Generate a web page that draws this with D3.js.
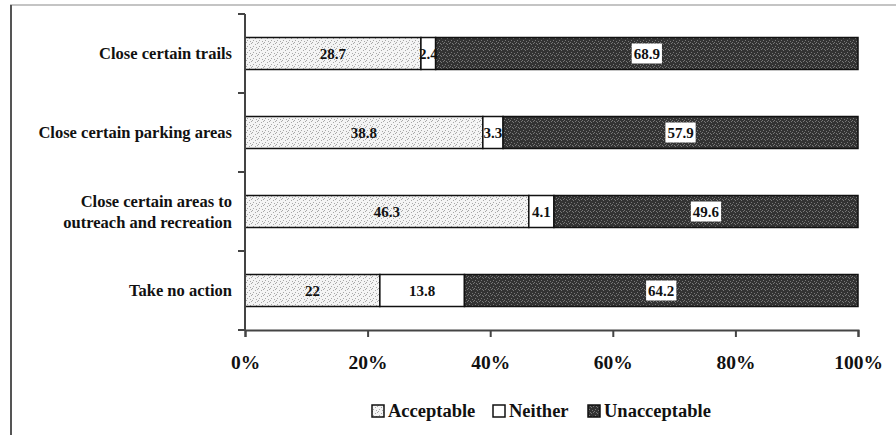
<!DOCTYPE html>
<html><head><meta charset="utf-8">
<script src="https://cdn.jsdelivr.net/npm/d3@7"></script>
<style>
body{margin:0;background:#fff;}
svg{display:block;}
</style></head>
<body>
<svg id="c" width="896" height="435"></svg>
<script>
const categories = [
  ["Close certain trails"],
  ["Close certain parking areas"],
  ["Close certain areas to", "outreach and recreation"],
  ["Take no action"]
];
const seriesNames = ["Acceptable", "Neither", "Unacceptable"];
const acceptable = [28.7, 38.8, 46.3, 22];
const neither = [2.4, 3.3, 4.1, 13.8];
const unacceptable = [68.9, 57.9, 49.6, 64.2];
const tickValues = [0, 20, 40, 60, 80, 100];
const tickLabels = ["0%", "20%", "40%", "60%", "80%", "100%"];

(function(){
const FONT = "Liberation Serif";
const svg = d3.select("#c");
const defs = svg.append("defs");

// texture patterns
const pA = defs.append("pattern").attr("id","pA").attr("patternUnits","userSpaceOnUse").attr("width",6).attr("height",6);
pA.append("rect").attr("width",6).attr("height",6).attr("fill","#f4f4f4");
[[0,0],[3,2],[1,4],[4,5],[5,1]].forEach(d=>pA.append("rect").attr("x",d[0]).attr("y",d[1]).attr("width",1).attr("height",1).attr("fill","#a8a8a8"));
const pU = defs.append("pattern").attr("id","pU").attr("patternUnits","userSpaceOnUse").attr("width",6).attr("height",6);
pU.append("rect").attr("width",6).attr("height",6).attr("fill","#333");
[[0,0],[3,2],[1,4],[4,5],[5,1],[2,1]].forEach(d=>pU.append("rect").attr("x",d[0]).attr("y",d[1]).attr("width",1).attr("height",1).attr("fill","#777"));
const fills = ["url(#pA)", "#ffffff", "url(#pU)"];

// frame
svg.append("line").attr("x1",10).attr("x2",896).attr("y1",5).attr("y2",5).attr("stroke","#c4c4c4").attr("stroke-width",2);
svg.append("line").attr("x1",11).attr("x2",11).attr("y1",5).attr("y2",435).attr("stroke","#555").attr("stroke-width",2);

const mL = 245, mR = 858, mT = 14, mB = 330;
const x = d3.scaleLinear().domain([0,100]).range([mL,mR]);
const y = d3.scaleBand().domain(d3.range(categories.length)).range([mT,mB]).paddingInner(0.595).paddingOuter(0.2975);

const rows = categories.map((c,i)=>{
  const vals = [acceptable[i], neither[i], unacceptable[i]];
  let acc = 0;
  return vals.map((v,k)=>{ const s={i,k,v,x0:acc,x1:acc+v}; acc+=v; return s; });
}).flat();

const g = svg.append("g");
g.selectAll("rect.seg").data(rows).join("rect").attr("class","seg")
  .attr("x",d=>x(d.x0)).attr("width",d=>x(d.x1)-x(d.x0))
  .attr("y",d=>y(d.i)).attr("height",y.bandwidth())
  .attr("fill",d=>fills[d.k]).attr("stroke","#111").attr("stroke-width",1.5);

// value labels
const lab = g.selectAll("g.lab").data(rows).join("g").attr("class","lab")
  .attr("transform",d=>`translate(${(x(d.x0)+x(d.x1))/2},${y(d.i)+y.bandwidth()/2})`);
lab.each(function(d){
  const t = d3.select(this).append("text").attr("text-anchor","middle").attr("dy","0.35em")
    .style("font-family",FONT).style("font-weight","bold").attr("fill","#111")
    .style("font-size","15px").text(String(d.v));
  if (d.k===2){
    const w = t.node().getComputedTextLength();
    d3.select(this).insert("rect","text").attr("x",-w/2-2).attr("y",-10).attr("width",w+4).attr("height",20).attr("fill","#fff");
  }
});

// axes
const yAxis = svg.append("g");
yAxis.append("line").attr("x1",mL).attr("x2",mL).attr("y1",mT).attr("y2",mB).attr("stroke","#444").attr("stroke-width",2);
const yt = d3.range(categories.length+1).map(i=> i<categories.length ? y(i)-y.step()*y.paddingInner()/2 : mB);
yAxis.selectAll("line.t").data(yt).join("line").attr("class","t")
  .attr("x1",mL-7).attr("x2",mL).attr("y1",d=>d).attr("y2",d=>d).attr("stroke","#444").attr("stroke-width",2);

const xAxis = svg.append("g").attr("transform",`translate(0,${mB})`)
  .call(d3.axisBottom(x).tickValues(tickValues).tickFormat((d,i)=>tickLabels[i]).tickSize(7).tickPadding(18));
xAxis.select(".domain").attr("stroke","#444").attr("stroke-width",2);
xAxis.selectAll(".tick line").attr("stroke","#444").attr("stroke-width",2);
xAxis.selectAll(".tick text").attr("fill","#111")
  .style("font-family",FONT).style("font-weight","bold").style("font-size","19.5px");

// category labels
svg.selectAll("text.cat").data(categories).join("text").attr("class","cat")
  .attr("text-anchor","end").attr("x",232)
  .attr("y",(d,i)=>y(i)+y.bandwidth()/2)
  .style("font-family",FONT).style("font-weight","bold").attr("fill","#111").style("font-size","16.5px")
  .each(function(d){
    const n = d.length;
    d3.select(this).selectAll("tspan").data(d).join("tspan")
      .attr("x",232).attr("dy",(t,j)=> j===0 ? `${0.35-(n-1)*0.65}em` : "1.3em").text(t=>t);
  });

// legend
const legX = [372, 493, 588];
const leg = svg.selectAll("g.leg").data(seriesNames).join("g").attr("class","leg")
  .attr("transform",(d,i)=>`translate(${legX[i]},411)`);
leg.append("rect").attr("x",0).attr("y",-6).attr("width",12).attr("height",12)
  .attr("fill",(d,i)=>fills[i]).attr("stroke","#111").attr("stroke-width",1.5);
leg.append("text").attr("x",16).attr("dy","0.35em")
  .style("font-family",FONT).style("font-weight","bold").attr("fill","#111").style("font-size","18.5px").text(d=>d);
})();
</script>
</body></html>
